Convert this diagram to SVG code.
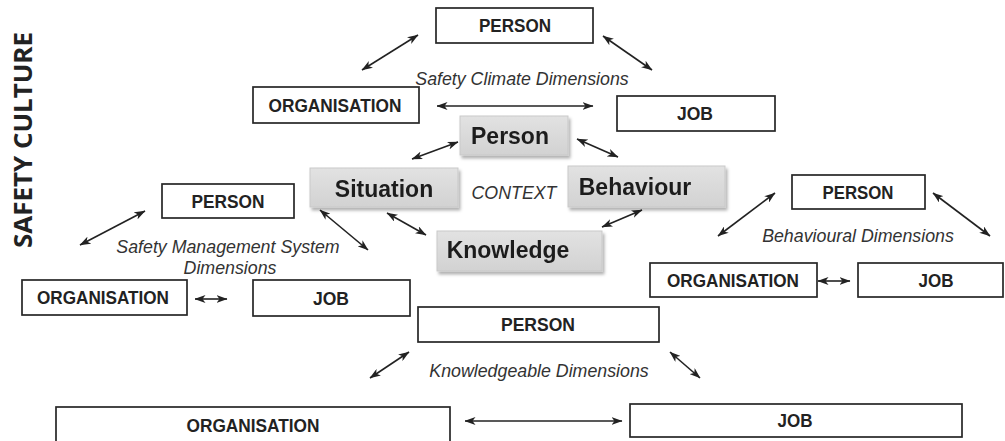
<svg xmlns="http://www.w3.org/2000/svg" width="1005" height="441" viewBox="0 0 1005 441">
  <style>
    .box { fill: #ffffff; stroke: #262626; stroke-width: 1.7; }
    .lbl { font-family: "Liberation Sans", Arial, sans-serif; font-weight: bold; font-size: 18px; fill: #222222; text-anchor: middle; }
    .ctx { stroke: #c9c9c9; stroke-width: 1; }
    .big { font-family: "Liberation Sans", Arial, sans-serif; font-weight: bold; font-size: 23px; fill: #1e1e1e; text-anchor: middle; }
    .dim { font-family: "Liberation Sans", Arial, sans-serif; font-style: italic; font-size: 17.8px; fill: #333333; text-anchor: middle; }
    .link { stroke: #222222; stroke-width: 1.6; fill: none; marker-start: url(#head); marker-end: url(#head); }
  </style>
  <defs>
    <marker id="head" viewBox="0 0 11 8" refX="10.5" refY="4" markerWidth="11" markerHeight="8" markerUnits="userSpaceOnUse" orient="auto-start-reverse">
      <path d="M0,0 L11,4 L0,8 L3,4 z" fill="#222222"/>
    </marker>
    <filter id="shadow" x="-10%" y="-20%" width="130%" height="150%">
      <feDropShadow dx="2" dy="3" stdDeviation="1.5" flood-color="#000000" flood-opacity="0.3"/>
    </filter>
    <linearGradient id="ctxfill" x1="0" y1="0" x2="0" y2="1">
      <stop offset="0" stop-color="#e2e2e2"/>
      <stop offset="1" stop-color="#d2d2d2"/>
    </linearGradient>
  </defs>

  <rect width="1005" height="441" fill="#ffffff"/>

  <!-- title -->
  <text id="title" transform="translate(32,140) rotate(-90)" text-anchor="middle" font-family="'Open Sans', 'Liberation Sans', sans-serif" font-weight="bold" font-size="25" textLength="216" lengthAdjust="spacingAndGlyphs" fill="#222222">SAFETY CULTURE</text>

  <!-- connectors -->
  <g id="connectors">
    <line class="link" x1="362" y1="70" x2="418" y2="35"/>
    <line class="link" x1="603" y1="36" x2="652" y2="70"/>
    <line class="link" x1="437" y1="106" x2="593" y2="106"/>
    <line class="link" x1="412" y1="159" x2="458" y2="142"/>
    <line class="link" x1="577" y1="139" x2="618" y2="157"/>
    <line class="link" x1="387" y1="213" x2="426" y2="235"/>
    <line class="link" x1="642" y1="210" x2="602" y2="227"/>
    <line class="link" x1="80" y1="245" x2="145" y2="211"/>
    <line class="link" x1="320" y1="210" x2="368" y2="250"/>
    <line class="link" x1="195" y1="299" x2="227" y2="299"/>
    <line class="link" x1="718" y1="236" x2="775" y2="193"/>
    <line class="link" x1="933" y1="193" x2="990" y2="236"/>
    <line class="link" x1="818" y1="281" x2="850" y2="281"/>
    <line class="link" x1="370" y1="378" x2="409" y2="352"/>
    <line class="link" x1="670" y1="352" x2="700" y2="378"/>
    <line class="link" x1="465" y1="421" x2="622" y2="421"/>
  </g>

  <!-- dimension captions -->
  <g id="captions">
    <text class="dim" x="522" y="85">Safety Climate Dimensions</text>
    <text class="dim" x="514" y="199">CONTEXT</text>
    <text class="dim" x="228" y="253">Safety Management System</text>
    <text class="dim" x="230" y="274">Dimensions</text>
    <text class="dim" x="858" y="242">Behavioural Dimensions</text>
    <text class="dim" x="539" y="377">Knowledgeable Dimensions</text>
  </g>

  <!-- context nodes -->
  <g id="ctx-person" filter="url(#shadow)">
    <rect class="ctx" x="460" y="116" width="108" height="39" fill="url(#ctxfill)"/>
    <text class="big" x="510" y="144">Person</text>
  </g>
  <g id="ctx-situation" filter="url(#shadow)">
    <rect class="ctx" x="310" y="168" width="148" height="39" fill="url(#ctxfill)"/>
    <text class="big" x="384" y="197">Situation</text>
  </g>
  <g id="ctx-behaviour" filter="url(#shadow)">
    <rect class="ctx" x="568" y="166" width="157" height="41" fill="url(#ctxfill)"/>
    <text class="big" x="635" y="195">Behaviour</text>
  </g>
  <g id="ctx-knowledge" filter="url(#shadow)">
    <rect class="ctx" x="437" y="231" width="165" height="40" fill="url(#ctxfill)"/>
    <text class="big" x="508" y="258">Knowledge</text>
  </g>

  <!-- safety climate triangle -->
  <g id="climate-person">
    <rect class="box" x="436" y="8" width="157" height="35"/>
    <text class="lbl" x="515" y="32" textLength="72" lengthAdjust="spacingAndGlyphs">PERSON</text>
  </g>
  <g id="climate-organisation">
    <rect class="box" x="253" y="87" width="166" height="36"/>
    <text class="lbl" x="335" y="112" textLength="133" lengthAdjust="spacingAndGlyphs">ORGANISATION</text>
  </g>
  <g id="climate-job">
    <rect class="box" x="617" y="96" width="158" height="35"/>
    <text class="lbl" x="695" y="120" textLength="36" lengthAdjust="spacingAndGlyphs">JOB</text>
  </g>

  <!-- safety management system triangle -->
  <g id="sms-person">
    <rect class="box" x="162" y="184" width="132" height="34"/>
    <text class="lbl" x="228" y="207.5" textLength="73" lengthAdjust="spacingAndGlyphs">PERSON</text>
  </g>
  <g id="sms-organisation">
    <rect class="box" x="22" y="280" width="165" height="35"/>
    <text class="lbl" x="103" y="304" textLength="132" lengthAdjust="spacingAndGlyphs">ORGANISATION</text>
  </g>
  <g id="sms-job">
    <rect class="box" x="253" y="280" width="157" height="36"/>
    <text class="lbl" x="331" y="304.5" textLength="36" lengthAdjust="spacingAndGlyphs">JOB</text>
  </g>

  <!-- behavioural triangle -->
  <g id="beh-person">
    <rect class="box" x="792" y="175" width="133" height="34"/>
    <text class="lbl" x="858" y="198.5" textLength="71" lengthAdjust="spacingAndGlyphs">PERSON</text>
  </g>
  <g id="beh-organisation">
    <rect class="box" x="650" y="263" width="167" height="34"/>
    <text class="lbl" x="733" y="286.5" textLength="132" lengthAdjust="spacingAndGlyphs">ORGANISATION</text>
  </g>
  <g id="beh-job">
    <rect class="box" x="858" y="263" width="145" height="34"/>
    <text class="lbl" x="936" y="286.5" textLength="35" lengthAdjust="spacingAndGlyphs">JOB</text>
  </g>

  <!-- knowledgeable triangle -->
  <g id="know-person">
    <rect class="box" x="418" y="307" width="241" height="35"/>
    <text class="lbl" x="538" y="331" textLength="74" lengthAdjust="spacingAndGlyphs">PERSON</text>
  </g>
  <g id="know-organisation">
    <rect class="box" x="56" y="407" width="394" height="37"/>
    <text class="lbl" x="253" y="432" textLength="133" lengthAdjust="spacingAndGlyphs">ORGANISATION</text>
  </g>
  <g id="know-job">
    <rect class="box" x="630" y="404" width="332" height="33"/>
    <text class="lbl" x="795" y="427" textLength="35" lengthAdjust="spacingAndGlyphs">JOB</text>
  </g>
</svg>
